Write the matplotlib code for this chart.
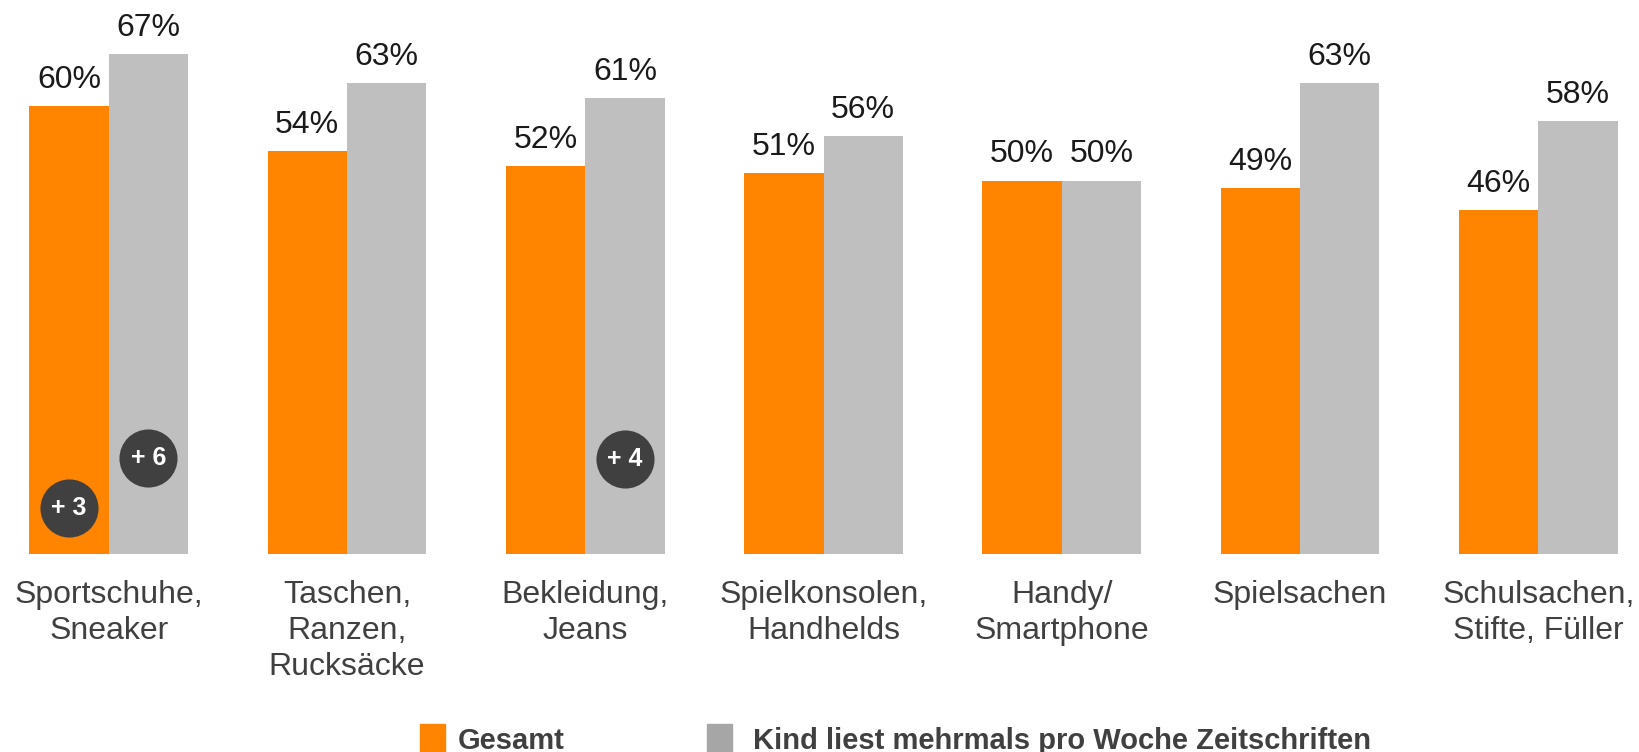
import matplotlib.pyplot as plt
from matplotlib.patches import Rectangle

plt.rcParams['font.family'] = ['Liberation Sans', 'DejaVu Sans']

categories = ["Sportschuhe,\nSneaker", "Taschen,\nRanzen,\nRucksäcke", "Bekleidung,\nJeans",
              "Spielkonsolen,\nHandhelds", "Handy/\nSmartphone", "Spielsachen",
              "Schulsachen,\nStifte, Füller"]
gesamt = [60, 54, 52, 51, 50, 49, 46]
kind_liest = [67, 63, 61, 56, 50, 63, 58]
series_names = ["Gesamt", "Kind liest mehrmals pro Woche Zeitschriften"]

# difference badges: (category index, series 0=Gesamt / 1=Kind, label, height)
badges = [(0, 0, "+ 3", 6.2), (0, 1, "+ 6", 12.9), (2, 1, "+ 4", 12.7)]

orange = '#FF8400'
grey = '#BFBFBF'
grey_legend = '#A6A6A6'
dark = '#404040'

fig = plt.figure(figsize=(16.39, 7.52), dpi=100)
ax = fig.add_axes([0, 1 - 554 / 752, 1, 554 / 752])
ax.set_xlim(-0.456, 6.422)
ax.set_ylim(0, 554 / 7.47)
ax.axis('off')

w = 0.333
xs = list(range(len(categories)))
b1 = ax.bar([x - w / 2 for x in xs], gesamt, w, color=orange)
b2 = ax.bar([x + w / 2 for x in xs], kind_liest, w, color=grey)

for bars, vals in ((b1, gesamt), (b2, kind_liest)):
    for rect, v in zip(bars, vals):
        ax.annotate(f"{v}%", (rect.get_x() + rect.get_width() / 2, v),
                    xytext=(0, 18), textcoords='offset pixels',
                    ha='center', va='baseline', fontsize=23, color='#1a1a1a')

for x, lab in zip(xs, categories):
    ax.annotate(lab, (x, 0), xytext=(0, -26), textcoords='offset pixels',
                ha='center', va='top', fontsize=23, color='#404040',
                linespacing=1.26, annotation_clip=False)

for ci, si, lab, h in badges:
    bx = ci - w / 2 if si == 0 else ci + w / 2
    ax.scatter([bx], [h], s=1750, color=dark, zorder=3, linewidths=0)
    ax.text(bx, h, lab, ha='center', va='center', fontsize=18, fontweight='bold',
            color='white', zorder=4)

# legend drawn by hand
fig.add_artist(Rectangle((420 / 1639, 0), 25 / 1639, 28 / 752, color=orange,
                         transform=fig.transFigure))
fig.add_artist(Rectangle((707 / 1639, 0), 25 / 1639, 28 / 752, color=grey_legend,
                         transform=fig.transFigure))
fig.text(458 / 1639, 1 - 741 / 752, series_names[0], fontsize=21, fontweight='bold',
         color=dark, va='center', ha='left')
fig.text(753 / 1639, 1 - 741 / 752, series_names[1], fontsize=21, fontweight='bold',
         color=dark, va='center', ha='left')

fig.savefig('out.png', dpi=100)
